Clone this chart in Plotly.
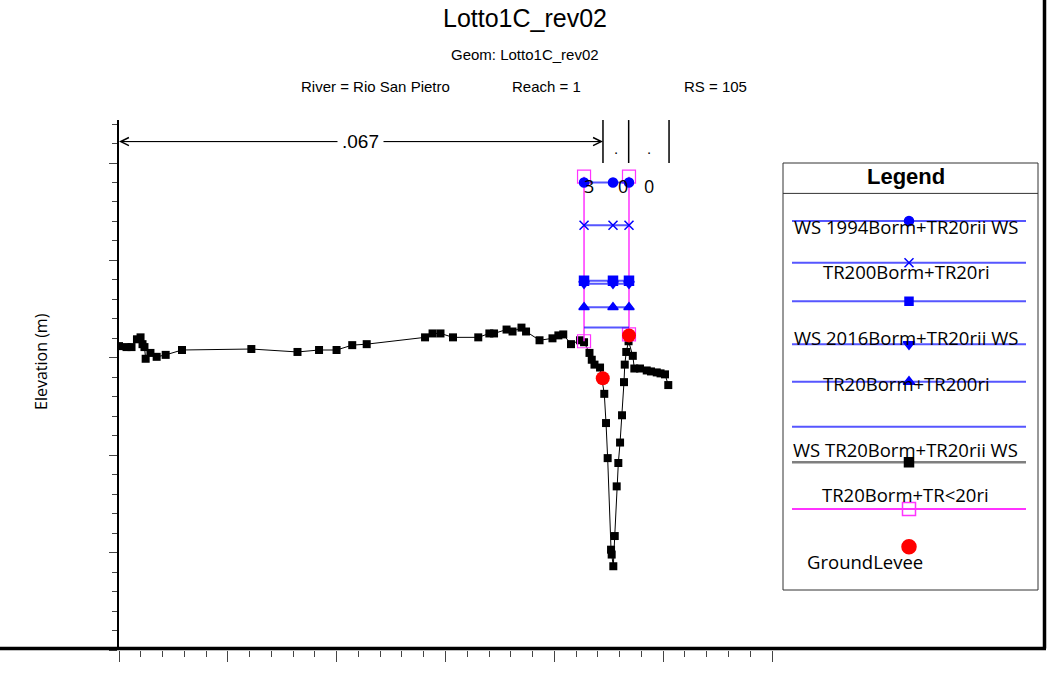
import plotly.graph_objects as go

# ground profile: station (m) and elevation (m)
station = [0.0, 0.69, 1.15, 1.65, 1.98, 2.16, 2.34, 2.45, 2.89, 3.46, 4.29, 5.79,
           12.16, 16.40, 18.38, 19.99, 21.43, 22.76, 28.12, 28.81, 29.54, 30.69,
           33.01, 34.03, 34.46, 35.61, 36.16, 36.98, 37.40, 38.64, 39.83, 40.37,
           40.82, 41.53, 42.36, 42.73, 43.23, 43.44, 43.69, 44.20, 44.59, 44.75,
           44.90, 45.21, 45.27, 45.42, 45.55, 45.73, 45.88, 46.04, 46.22, 46.40,
           46.47, 46.61, 46.82, 47.21, 47.35, 47.87, 48.49, 48.88, 49.41, 49.76,
           50.17, 50.47]
elevation = [13.12, 13.11, 13.11, 13.19, 13.21, 13.14, 13.11, 12.99, 13.05, 13.01, 13.03, 13.08,
             13.09, 13.06, 13.08, 13.08, 13.13, 13.14, 13.21, 13.25, 13.25, 13.21,
             13.21, 13.25, 13.25, 13.29, 13.27, 13.31, 13.27, 13.18, 13.20, 13.23,
             13.24, 13.14, 13.18, 13.16, 13.05, 12.98, 12.93, 12.90, 12.63, 12.33,
             11.97, 11.03, 10.98, 10.86, 11.17, 11.68, 11.92, 12.13, 12.41, 12.75,
             12.93, 13.06, 13.17, 13.02, 12.89, 12.89, 12.87, 12.86, 12.85, 12.84,
             12.83, 12.72]

levee_sta = [44.45, 46.86]
levee_elev = [12.79, 13.23]

bank_sta = [42.73, 46.86]
bank_low = [13.17, 13.24]
bank_high = [14.86, 14.86]

ws_sta = [42.73, 45.39, 46.86]
ws_names = ['WS 1994Borm+TR20rii', 'WS TR200Borm+TR20ri', 'WS 2016Borm+TR20rii',
            'WS 2016Borm+TR20rii b', 'WS TR20Borm+TR200ri', 'WS TR20Borm+TR20rii']
ws_elev = [14.80, 14.36, 13.79, 13.76, 13.52, 13.31]
ws_symbols = ['circle', 'x-thin', 'square', 'triangle-down', 'triangle-up', None]

n_sta = [0.0, 44.47, 46.83, 50.54]
n_vals = ['.067', '.', '.']

stage_sta = [43.21, 46.34, 48.73]
stage_txt = ['3', '0', '0']
stage_elev = 14.76

W, H = 1049, 673
L, R, T, B = 119, 6, 120, 23
PW, PH = W - L - R, H - T - B

BLUE_LINE = 'rgba(30,30,255,0.75)'
BLUE = '#0000ff'
MAGENTA = '#ff33ff'
SANS = 'Liberation Sans, Arial'
OPEN = 'Open Sans'


def px(x):
    return (x - L) / PW


def py(y):
    return (H - B - y) / PH


def main():
    fig = go.Figure()

    fig.add_trace(go.Scatter(x=station, y=elevation, mode='lines+markers',
                             line=dict(color='black', width=1),
                             marker=dict(symbol='square', size=8, color='black'),
                             name='Ground', showlegend=False))

    for s, lo, hi in zip(bank_sta, bank_low, bank_high):
        fig.add_trace(go.Scatter(x=[s, s], y=[lo, hi], mode='lines+markers',
                                 line=dict(color=MAGENTA, width=1.5),
                                 marker=dict(symbol='square-open', size=13, color=MAGENTA,
                                             line=dict(width=1.2)),
                                 name='Bank Sta', showlegend=False))

    for name, e, sym in zip(ws_names, ws_elev, ws_symbols):
        fig.add_trace(go.Scatter(x=ws_sta, y=[e] * len(ws_sta),
                                 mode='lines+markers' if sym else 'lines',
                                 line=dict(color=BLUE_LINE, width=2),
                                 marker=dict(symbol=sym or 'circle', size=9, color=BLUE,
                                             line=dict(width=1.5, color=BLUE)),
                                 name=name, showlegend=False))

    fig.add_trace(go.Scatter(x=levee_sta, y=levee_elev, mode='markers',
                             marker=dict(symbol='circle', size=14, color='red'),
                             name='Levee', showlegend=False))

    # legend drawn in its own little axes (pixel units)
    rows = [
        (221, BLUE_LINE, 2, 'circle', BLUE, 9),
        (262.7, BLUE_LINE, 2, 'x-thin', BLUE, 9),
        (301.3, BLUE_LINE, 2, 'square', BLUE, 8),
        (344.3, BLUE_LINE, 2, 'triangle-down', BLUE, 10),
        (381.7, BLUE_LINE, 2, 'triangle-up', BLUE, 10),
        (426.7, BLUE_LINE, 2, None, BLUE, 0),
        (462.3, '#7f7f7f', 2.5, 'square', 'black', 9),
        (509, MAGENTA, 2, 'square-open', MAGENTA, 13),
        (546.7, None, 0, 'circle', 'red', 14),
    ]
    for ry, lc, lw, sym, mc, ms in rows:
        if lc:
            fig.add_trace(go.Scatter(x=[792, 1026], y=[ry, ry], mode='lines',
                                     line=dict(color=lc, width=lw),
                                     xaxis='x2', yaxis='y2', showlegend=False, hoverinfo='skip'))
        if sym:
            fig.add_trace(go.Scatter(x=[909], y=[ry], mode='markers',
                                     marker=dict(symbol=sym, size=ms, color=mc,
                                                 line=dict(width=1.5, color=mc)),
                                     xaxis='x2', yaxis='y2', showlegend=False, hoverinfo='skip'))

    leg_text = [
        ('WS 1994Borm+TR20rii WS', 906, 226),
        ('TR200Borm+TR20ri', 906, 271),
        ('WS 2016Borm+TR20rii WS', 906, 337),
        ('TR20Borm+TR200ri', 906, 383),
        ('WS TR20Borm+TR20rii WS', 905, 449),
        ('TR20Borm+TR&lt;20ri', 905, 494),
        ('GroundLevee', 865, 561),
    ]
    ann = []
    for t, x, y in leg_text:
        ann.append(dict(text=t, x=x, y=y, xref='x2', yref='y2', showarrow=False,
                        xanchor='center', yanchor='middle',
                        font=dict(family=OPEN, size=18.5, color='black')))
    ann.append(dict(text='<b>Legend</b>', x=906, y=176, xref='x2', yref='y2', showarrow=False,
                    xanchor='center', yanchor='middle',
                    font=dict(family=SANS, size=22, color='black')))

    # titles
    ann.append(dict(text='Lotto1C_rev02', x=px(524.5), y=py(18), xref='paper', yref='paper',
                    xanchor='center', yanchor='middle',
                    showarrow=False, font=dict(family=SANS, size=25, color='black')))
    ann.append(dict(text='Geom: Lotto1C_rev02', x=px(524.5), y=py(55), xref='paper', yref='paper',
                    xanchor='center', yanchor='middle',
                    showarrow=False, font=dict(family=SANS, size=15, color='black')))
    for t, x, xa in [('River = Rio San Pietro', 299, 'left'), ('Reach = 1', 510, 'left'),
                     ('RS = 105', 749, 'right')]:
        ann.append(dict(text=t, x=px(x), y=py(87), xref='paper', yref='paper',
                        xanchor=xa, yanchor='middle',
                        showarrow=False, font=dict(family=SANS, size=15, color='black')))
    ann.append(dict(text='Elevation (m)', x=px(41), y=py(362), xref='paper', yref='paper',
                    xanchor='center', yanchor='middle',
                    textangle=-90, showarrow=False, font=dict(family=OPEN, size=16, color='black')))

    # Manning's n bar
    n_y = 15.22
    ann.append(dict(x=n_sta[0], y=n_y, ax=n_sta[1], ay=n_y, xref='x', yref='y', axref='x', ayref='y',
                    text='', showarrow=True, arrowhead=5, arrowsize=1.6, arrowwidth=1, arrowcolor='black'))
    ann.append(dict(x=n_sta[1], y=n_y, ax=n_sta[0], ay=n_y, xref='x', yref='y', axref='x', ayref='y',
                    text='', showarrow=True, arrowhead=5, arrowsize=1.6, arrowwidth=1, arrowcolor='black'))
    for i, v in enumerate(n_vals):
        mid = (n_sta[i] + n_sta[i + 1]) / 2
        ann.append(dict(text=v, x=mid, y=n_y if i == 0 else 15.15, xref='x', yref='y', showarrow=False,
                        xanchor='center', yanchor='middle',
                        bgcolor='white' if i == 0 else None, borderpad=4,
                        font=dict(family=SANS, size=19 if i == 0 else 15, color='black')))
    for s, t in zip(stage_sta, stage_txt):
        ann.append(dict(text=t, x=s, y=stage_elev, xref='x', yref='y', showarrow=False,
                        xanchor='center', yanchor='middle',
                        font=dict(family=OPEN, size=18, color='black')))

    shapes = []
    for s in n_sta[1:]:
        shapes.append(dict(type='line', xref='x', yref='y', x0=s, x1=s, y0=15.0, y1=15.441,
                           line=dict(color='black', width=1.5)))
    # legend box
    shapes.append(dict(type='rect', xref='paper', yref='paper', x0=px(783), x1=px(1038),
                       y0=py(590), y1=py(163), line=dict(color='#333', width=1)))
    shapes.append(dict(type='line', xref='paper', yref='paper', x0=px(783), x1=px(1038),
                       y0=py(193.4), y1=py(193.4), line=dict(color='#333', width=1)))
    # frame
    shapes.append(dict(type='line', xref='paper', yref='paper', x0=px(0), x1=px(1046),
                       y0=py(648.5), y1=py(648.5), line=dict(color='black', width=3.5)))
    shapes.append(dict(type='line', xref='paper', yref='paper', x0=px(1044.5), x1=px(1044.5),
                       y0=py(648.5), y1=py(0), line=dict(color='black', width=3.5)))

    fig.update_layout(
        width=W, height=H,
        margin=dict(l=L, r=R, t=T, b=B),
        plot_bgcolor='white', paper_bgcolor='white',
        showlegend=False,
        annotations=ann, shapes=shapes,
        xaxis=dict(domain=[0, 653 / PW], range=[0, 60], showgrid=False, zeroline=False,
                   showticklabels=False, ticks='outside', dtick=10, tick0=0, ticklen=11,
                   tickcolor='#444', tickwidth=1.2, showline=False,
                   minor=dict(dtick=2, ticks='outside', ticklen=6, tickcolor='#444', showgrid=False)),
        yaxis=dict(domain=[0, 1], range=[10, 10 + 530 / 97.4], showgrid=False, zeroline=False,
                   showticklabels=False, ticks='outside', dtick=1, tick0=10, ticklen=8,
                   tickcolor='#444', tickwidth=1.2, showline=True, linecolor='black', linewidth=1.5,
                   minor=dict(dtick=0.2, ticks='outside', ticklen=5, tickcolor='#444', showgrid=False)),
        xaxis2=dict(domain=[px(783), px(1038)], range=[783, 1038], visible=False, anchor='y2'),
        yaxis2=dict(domain=[py(590), py(163)], range=[590, 163], visible=False, anchor='x2'),
    )

    # page body has a default 8px margin; drop it so the figure sits at the window origin
    fig.write_html('out.html', config={'displayModeBar': False},
                   post_script="document.body.style.margin='0';")


if __name__ == '__main__':
    main()
